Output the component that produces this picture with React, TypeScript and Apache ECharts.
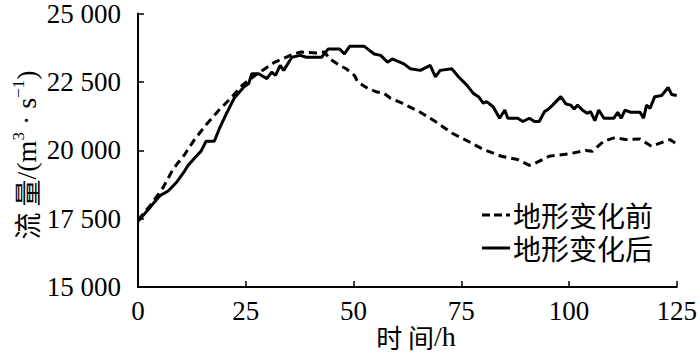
import React, { useEffect, useRef } from "react";
import * as echarts from "echarts";

const afterHours = [0, 2.8, 5, 7, 8.9, 10.8, 11.5, 13.5, 14.6, 15.8, 17.7, 18.8, 20.4, 22.3, 24.6, 25.7, 26.4, 28, 29.9, 31, 31.9, 33, 33.8, 35.7, 37.6, 39.1, 42.6, 44.1, 46.8, 47.9, 49.1, 52.5, 54.8, 56.3, 57.9, 59, 61.7, 63.2, 65.5, 67.8, 69, 70.1, 72.8, 74.4, 76.3, 77.8, 79, 80.1, 80.9, 82.4, 83.9, 85.1, 85.8, 88.1, 89.3, 90.8, 92, 93.1, 94.3, 95.4, 96.2, 98.1, 99.3, 100.4, 101.2, 102, 103.1, 104.2, 105, 106, 106.9, 108.1, 110.4, 111.3, 112.1, 113, 114.2, 116.5, 117.3, 118, 118.8, 119.9, 121.5, 123, 123.8, 125];
const afterFlow = [17400, 17910, 18330, 18510, 18820, 19240, 19420, 19780, 19960, 20330, 20330, 20760, 21300, 21900, 22320, 22440, 22800, 22800, 22620, 22860, 22740, 23100, 22920, 23400, 23470, 23400, 23400, 23700, 23700, 23520, 23800, 23800, 23520, 23470, 23220, 23340, 23160, 22980, 22920, 23100, 22680, 22920, 22980, 22680, 22380, 22080, 21960, 21720, 21780, 21590, 21170, 21470, 21170, 21170, 21050, 21170, 21050, 21050, 21410, 21530, 21650, 21960, 21690, 21650, 21510, 21650, 21470, 21350, 21410, 21080, 21470, 21170, 21170, 21390, 21170, 21470, 21390, 21390, 21170, 21650, 21530, 21960, 22000, 22300, 22040, 22000];

const beforeHours = [0, 2.8, 5.8, 8.1, 10.8, 13.1, 15.8, 18.8, 21.5, 24.2, 27.2, 31.5, 35.7, 37.6, 41.4, 43.3, 44.5, 46.8, 48.3, 50.2, 51, 53.3, 55.2, 57.1, 58.6, 61.3, 65.5, 69, 72.8, 76.6, 80.1, 84.3, 88.1, 90.8, 91.6, 95.4, 100, 103.9, 105.4, 108.1, 110.8, 113, 116.5, 117.3, 119.2, 121.1, 123.4, 125];
const beforeFlow = [17450, 17970, 18630, 19300, 19840, 20390, 20930, 21470, 21900, 22380, 22740, 23200, 23490, 23590, 23560, 23590, 23340, 23100, 22980, 22740, 22500, 22260, 22140, 22080, 21900, 21720, 21390, 21050, 20630, 20330, 20030, 19780, 19660, 19450, 19480, 19780, 19870, 19990, 19960, 20330, 20470, 20390, 20410, 20330, 20140, 20260, 20390, 20230];

const seriesNames = ["地形变化前", "地形变化后"];
const xTicks = { min: 0, max: 125, interval: 25 };
const yTicks = { min: 15000, max: 25000, interval: 2500 };
const xAxisTitle = ["时 间", "/h"];
const yAxisTitle = ["流 量", "/(m", "3", " · s", "−1", ")"];

const SERIF = "Liberation Serif, Times New Roman, serif";
const CJK = "Noto Sans CJK SC, sans-serif";

export default function App() {
  const ref = useRef<HTMLDivElement>(null);
  useEffect(() => {
    document.body.style.margin = "0";
    if (!ref.current) return;
    const chart = echarts.init(ref.current, undefined, { renderer: "svg" });
    const zip = (a: number[], b: number[]) => a.map((v, i) => [v, b[i]]);
    const fmt = (v: number) => {
      const s = String(v);
      return s.length > 3 ? s.slice(0, s.length - 3) + " " + s.slice(-3) : s;
    };
    const legendX = 482;
    const legendY = [215, 248];
    chart.setOption({
      animation: false,
      backgroundColor: "#fff",
      grid: { left: 138, right: 18, top: 11, bottom: 75, containLabel: false },
      legend: { show: false, data: seriesNames },
      xAxis: {
        type: "value",
        min: xTicks.min,
        max: xTicks.max,
        interval: xTicks.interval,
        axisLine: { show: true, lineStyle: { color: "#000", width: 2 } },
        axisTick: { show: true, inside: true, length: 6, lineStyle: { color: "#000", width: 1.5 } },
        axisLabel: { fontFamily: SERIF, fontSize: 27, color: "#000", margin: 10 },
        splitLine: { show: false },
      },
      yAxis: {
        type: "value",
        min: yTicks.min,
        max: yTicks.max,
        interval: yTicks.interval,
        axisLine: { show: true, lineStyle: { color: "#000", width: 2 } },
        axisTick: { show: true, inside: true, length: 6, lineStyle: { color: "#000", width: 1.5 } },
        axisLabel: { fontFamily: SERIF, fontSize: 27, color: "#000", margin: 17, formatter: fmt },
        splitLine: { show: false },
      },
      graphic: [
        {
          type: "text",
          x: 25,
          y: 155,
          rotation: Math.PI / 2,
          style: {
            text:
              "{c|" + yAxisTitle[0] + "}{n|" + yAxisTitle[1] + "}{s|" + yAxisTitle[2] + "}{n|" +
              yAxisTitle[3] + "}{s|" + yAxisTitle[4] + "}{n|" + yAxisTitle[5] + "}",
            align: "center",
            verticalAlign: "middle",
            fill: "#000",
            rich: {
              c: { fontFamily: CJK, fontSize: 27, fill: "#000", lineHeight: 30, verticalAlign: "bottom" },
              n: { fontFamily: SERIF, fontSize: 28, fill: "#000", lineHeight: 30, verticalAlign: "bottom" },
              s: { fontFamily: SERIF, fontSize: 17, fill: "#000", lineHeight: 30, verticalAlign: "top" },
            },
          },
        },
        {
          type: "text",
          x: 416,
          y: 336,
          style: {
            text: "{c|" + xAxisTitle[0] + "}{n|" + xAxisTitle[1] + "}",
            align: "center",
            verticalAlign: "middle",
            fill: "#000",
            rich: {
              c: { fontFamily: CJK, fontSize: 26, fill: "#000" },
              n: { fontFamily: SERIF, fontSize: 28, fill: "#000" },
            },
          },
        },
        {
          type: "line",
          shape: { x1: legendX, y1: legendY[0], x2: legendX + 28, y2: legendY[0] },
          style: { stroke: "#000", lineWidth: 3, lineDash: [8, 4] },
        },
        {
          type: "line",
          shape: { x1: legendX, y1: legendY[1], x2: legendX + 28, y2: legendY[1] },
          style: { stroke: "#000", lineWidth: 3 },
        },
        {
          type: "text",
          x: legendX + 31,
          y: (legendY[0] + legendY[1]) / 2,
          style: {
            text: "{a|" + seriesNames[0] + "}\n{a|" + seriesNames[1] + "}",
            fill: "#000",
            verticalAlign: "middle",
            align: "left",
            rich: { a: { fontFamily: CJK, fontSize: 28, fill: "#000", lineHeight: legendY[1] - legendY[0] } },
          },
        },
      ],
      series: [
        {
          name: seriesNames[0],
          type: "line",
          data: zip(beforeHours, beforeFlow),
          symbol: "none",
          lineStyle: { color: "#000", width: 3, type: [8, 5] },
          itemStyle: { color: "#000" },
        },
        {
          name: seriesNames[1],
          type: "line",
          data: zip(afterHours, afterFlow),
          symbol: "none",
          lineStyle: { color: "#000", width: 3 },
          itemStyle: { color: "#000" },
        },
      ],
    });
    return () => chart.dispose();
  }, []);
  return <div ref={ref} style={{ width: 700, height: 362 }} />;
}
